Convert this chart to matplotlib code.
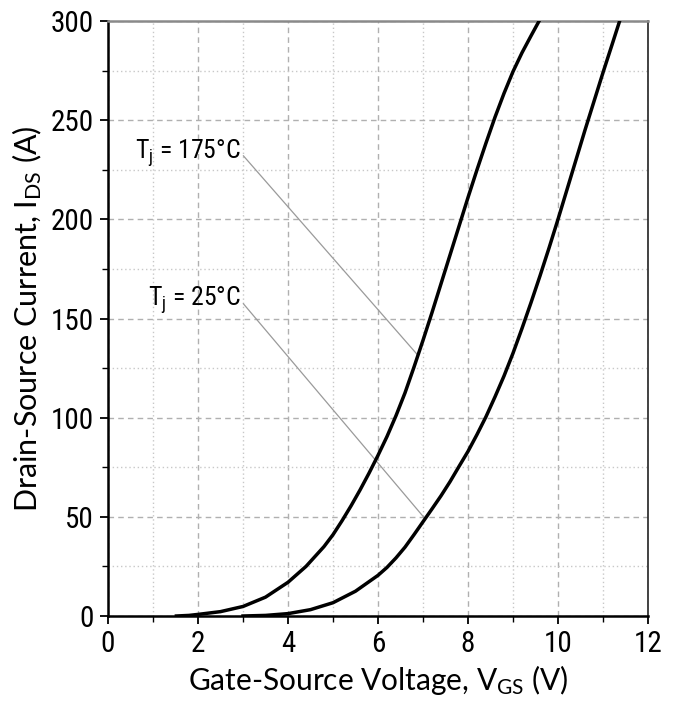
import matplotlib
matplotlib.use("Agg")
import matplotlib.pyplot as plt
from matplotlib.ticker import MultipleLocator

plt.rcParams['mathtext.default'] = 'regular'

# Data
vgs_175 = [1.52, 1.8, 2.0, 2.5, 3.0, 3.5, 4.0, 4.4, 4.8, 5.0, 5.2, 5.4, 5.6, 5.8, 6.0,
           6.2, 6.4, 6.6, 6.8, 7.0, 7.2, 7.4, 7.6, 7.8, 8.0, 8.2, 8.4, 8.6, 8.8,
           9.0, 9.2, 9.4, 9.58]
ids_175 = [0, 0.3, 0.8, 2.2, 4.8, 9.5, 17, 25, 35, 41, 48, 55.5, 63.5, 72, 81,
           90.5, 101, 112.5, 125.5, 139, 153, 167.5, 182, 196.5, 211, 225, 238.5, 251.5, 263.5,
           274.5, 284, 292.5, 300]

vgs_25 = [3.0, 3.5, 4.0, 4.5, 5.0, 5.5, 6.0, 6.2, 6.4, 6.6, 6.8, 7.0, 7.2, 7.4, 7.6,
          7.8, 8.0, 8.2, 8.4, 8.6, 8.8, 9.0, 9.2, 9.4, 9.6, 9.8, 10.0, 10.2, 10.4,
          10.6, 10.8, 11.0, 11.2, 11.37]
ids_25 = [0, 0.3, 1.2, 3.2, 6.7, 12.5, 20.5, 24.5, 29.3, 34.7, 41, 47.5, 54, 60.6, 67.7,
          75.4, 83, 91.5, 100.5, 110.5, 121, 132.5, 145, 158, 171.5, 185.5, 200, 215, 230,
          245, 259.5, 274, 288, 300]

labels = ['T$_j$ = 175°C', 'T$_j$ = 25°C']
label_pos = [(2.96, 233.5), (2.96, 159)]
line_start = [(3.01, 232), (3.01, 157.4)]
line_end = [(6.87, 131.9), (7.04, 49.2)]

x_ticks = [0, 2, 4, 6, 8, 10, 12]
y_ticks = [0, 50, 100, 150, 200, 250, 300]

cond = ['Roboto Condensed', 'DejaVu Sans']
wide = ['Lato', 'DejaVu Sans']

fig = plt.figure(figsize=(6.78, 7.03), dpi=100)
ax = fig.add_axes([108/678, 1-616/703, 540/678, 595/703])

ax.plot(vgs_175, ids_175, color='black', lw=2.5, zorder=3)
ax.plot(vgs_25, ids_25, color='black', lw=2.5, zorder=3)

for (xs, ys), (xe, ye) in zip(line_start, line_end):
    ax.plot([xs, xe], [ys, ye], color='#9a9a9a', lw=0.9, zorder=2)
for t, (x, y) in zip(labels, label_pos):
    ax.text(x, y, t, ha='right', va='center', fontsize=18.5, family=cond)

ax.set_xlim(0, 12)
ax.set_ylim(0, 300)
ax.set_xticks(x_ticks)
ax.set_yticks(y_ticks)
ax.xaxis.set_minor_locator(MultipleLocator(1))
ax.yaxis.set_minor_locator(MultipleLocator(25))

ax.grid(which='major', color='#b0b0b0', ls=(0, (4, 3)), lw=1.0)
ax.grid(which='minor', color='#c8c8c8', ls=(0, (1, 2)), lw=1.0)
ax.set_axisbelow(True)

ax.tick_params(which='major', direction='out', length=6, width=1.3, pad=4, labelsize=21)
ax.tick_params(which='minor', direction='out', length=4, width=1.0)
for lab in ax.get_xticklabels() + ax.get_yticklabels():
    lab.set_family(cond)

for s in ['left', 'bottom']:
    ax.spines[s].set_linewidth(1.8)
    ax.spines[s].set_color('black')
ax.spines['right'].set_linewidth(1.2)
ax.spines['right'].set_color('#222222')
ax.spines['top'].set_linewidth(1.8)
ax.spines['top'].set_color('#8a8a8a')

ax.set_xlabel('Gate-Source Voltage, V$_{GS}$ (V)', fontsize=21.5, family=wide, labelpad=4)
ax.set_ylabel('Drain-Source Current, I$_{DS}$ (A)', fontsize=22, family=wide, labelpad=5)

fig.savefig('out.png', dpi=100)
